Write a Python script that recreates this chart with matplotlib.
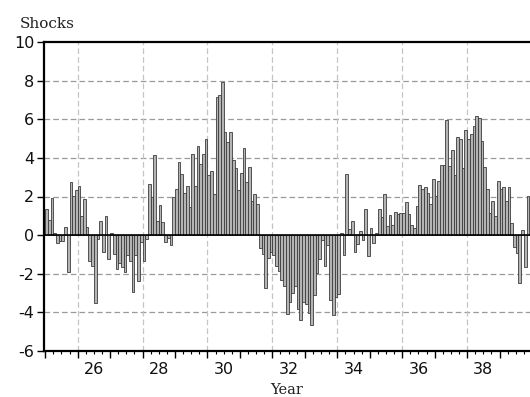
import numpy as np
import matplotlib
matplotlib.use("Agg")
import matplotlib.pyplot as plt
from matplotlib.ticker import FixedLocator, NullFormatter
from matplotlib.transforms import blended_transform_factory

# Monthly shock series, January '25 onward
start_year = 25
shocks = [
    # '25
    1.36, 0.79, 1.91, 0.11, -0.41, -0.28, -0.28, 0.43, -1.93, 2.77, 2.05, 2.36,
    # '26
    2.56, 1.00, 1.85, 0.43, -1.36, -1.62, -3.52, -0.20, 0.75, -0.87, 1.00, -1.22,
    # '27
    0.11, -0.98, -1.73, -1.44, -1.63, -1.92, -1.03, -1.34, -2.96, -1.04, -2.40, -0.38,
    # '28
    -1.34, -0.19, 2.64, 1.97, 4.14, 0.71, 1.58, 0.69, -0.35, -0.14, -0.52, 1.99,
    # '29
    2.37, 3.77, 3.19, 2.16, 2.55, 1.44, 4.21, 2.55, 4.59, 3.67, 4.22, 4.99,
    # '30
    3.10, 3.31, 2.13, 7.15, 7.25, 7.91, 5.35, 4.84, 5.35, 3.90, 3.46, 2.33,
    # '31
    3.20, 4.49, 2.74, 3.51, 1.77, 2.13, 1.63, -0.67, -0.98, -2.72, -1.20, -0.85,
    # '32
    -1.03, -1.60, -1.84, -2.30, -2.64, -4.11, -3.48, -3.00, -2.63, -3.82, -4.40, -3.48,
    # '33
    -3.56, -4.03, -4.67, -3.10, -1.95, -1.24, -0.25, -1.60, -0.52, -3.34, -4.16, -3.22,
    # '34
    -3.07, 0.12, -1.03, 3.15, 0.33, 0.73, -0.89, -0.45, 0.21, -0.24, 1.36, -1.08,
    # '35
    0.37, -0.41, 0.10, 1.34, 0.92, 2.13, 0.49, 1.02, 0.55, 1.21, 1.09, 1.16,
    # '36
    1.16, 1.73, 1.07, 0.55, 0.35, 1.53, 2.58, 2.41, 2.50, 2.20, 1.61, 2.91,
    # '37
    2.03, 2.81, 3.62, 3.62, 5.98, 3.59, 4.42, 3.12, 5.10, 4.99, 3.50, 5.46,
    # '38
    4.99, 5.25, 5.65, 6.15, 6.07, 4.85, 3.52, 2.41, 1.16, 1.77, 1.00, 2.79,
    # '39
    2.37, 2.50, 1.79, 2.50, 0.61, -0.64, -0.90, -2.48, 0.24, -1.65, 2.03,
]
year_labels = ["26", "28", "30", "32", "34", "36", "38"]
y_ticks = [-6, -4, -2, 0, 2, 4, 6, 8, 10]

W, H = 530, 397
fig = plt.figure(figsize=(W / 100, H / 100), dpi=100)
ax = fig.add_axes([44 / W, 46 / H, 488 / W, 309 / H])

months = np.arange(len(shocks))
x_left = start_year + months / 12.0

# dashed grid first so bars sit on top
for y in [-4, -2, 2, 4, 6, 8]:
    ax.axhline(y, color="#9a9a9a", lw=0.9, dashes=(4.5, 2.5), zorder=0)
for yr in range(26, 41, 2):
    ax.axvline(yr, color="#c4c4c4", lw=0.9, dashes=(4.5, 2.5), zorder=0)

ax.bar(x_left, shocks, width=1 / 12, align="edge",
       facecolor="#b4b4b4", edgecolor="#3c3c3c", linewidth=0.6, zorder=2)
ax.axhline(0, color="black", lw=1.2, zorder=3)

ax.set_xlim(start_year - 1.2 / 32.47, 40.0)
ax.set_ylim(-6, 10)

for side in ["left", "top", "bottom"]:
    ax.spines[side].set_linewidth(1.6)
    ax.spines[side].set_color("black")
ax.spines["right"].set_visible(False)

# x axis: year ticks with quarterly minor ticks, labels centred in the year
ax.xaxis.set_major_locator(FixedLocator(np.arange(25, 41)))
ax.xaxis.set_minor_locator(FixedLocator(np.arange(25, 40.01, 0.25)))
ax.xaxis.set_major_formatter(NullFormatter())
ax.tick_params(axis="x", which="major", direction="out", length=5, width=1.0)
ax.tick_params(axis="x", which="minor", direction="out", length=2.5, width=0.8)
trans = blended_transform_factory(ax.transData, ax.transAxes)
for lab in year_labels:
    ax.text(int(lab) + 0.5, -0.037, lab, transform=trans, ha="center", va="top",
            fontsize=11.5, family="DejaVu Sans", color="#111111")

ax.set_yticks(y_ticks)
ax.set_yticklabels([str(v) for v in y_ticks], fontsize=11.5, family="DejaVu Sans",
                   color="#111111")
ax.tick_params(axis="y", direction="out", length=5, width=1.0, pad=2)

fig.text(20 / W, 1 - 28.5 / H, "Shocks", family="DejaVu Serif", fontsize=11,
         va="baseline", ha="left", color="#222222")
fig.text(287 / W, 1 - 394.5 / H, "Year", family="DejaVu Serif", fontsize=10.5,
         va="baseline", ha="center", color="#222222")

fig.savefig("out.png", dpi=100)
